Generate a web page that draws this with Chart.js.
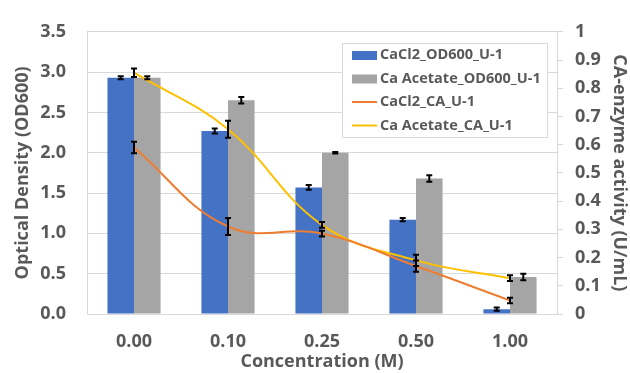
<!DOCTYPE html>
<html>
<head>
<meta charset="utf-8">
<script src="https://cdn.jsdelivr.net/npm/chart.js@4/dist/chart.umd.min.js"></script>
<style>
  html, body { margin: 0; padding: 0; background: #fff; }
  #wrap { width: 630px; height: 373px; position: relative; }
</style>
</head>
<body>
<div id="wrap"><canvas id="chart"></canvas></div>
<script>
// data
var concentrations = ['0.00', '0.10', '0.25', '0.50', '1.00'];
var cacl2OD = [2.93, 2.27, 1.57, 1.17, 0.06];
var cacl2ODErr = [0.02, 0.03, 0.03, 0.02, 0.02];
var acetateOD = [2.93, 2.65, 2.00, 1.68, 0.46];
var acetateODErr = [0.02, 0.04, 0.01, 0.04, 0.04];
var cacl2CA = [0.59, 0.31, 0.285, 0.17, 0.048];
var cacl2CAErr = [0.02, 0.03, 0.01, 0.02, 0.01];
var acetateCA = [0.855, 0.655, 0.316, 0.19, 0.127];
var acetateCAErr = [0.015, 0.03, 0.01, 0.02, 0.01];

var grey = '#595959';
var fontFam = '"Open Sans", "DejaVu Sans", sans-serif';

// simple error bar plugin, drawn from each dataset's own scale
var errorBars = {
    id: 'errorBars',
    afterDatasetsDraw(chart) {
        var ctx = chart.ctx;
        ctx.save();
        ctx.strokeStyle = '#000';
        ctx.lineWidth = 2;
        chart.data.datasets.forEach((ds, i) => {
            if (!ds.errors) return;
            var meta = chart.getDatasetMeta(i);
            var scale = chart.scales[ds.yAxisID];
            meta.data.forEach((el, j) => {
                var v = ds.data[j], e = ds.errors[j];
                var x = el.x;
                var y1 = scale.getPixelForValue(v + e);
                var y2 = scale.getPixelForValue(v - e);
                ctx.beginPath();
                ctx.moveTo(x, y1); ctx.lineTo(x, y2);
                ctx.moveTo(x - 3, y1); ctx.lineTo(x + 3, y1);
                ctx.moveTo(x - 3, y2); ctx.lineTo(x + 3, y2);
                ctx.stroke();
            });
        });
        ctx.restore();
    }
};

// legend box inside the plot, top right
var boxLegend = {
    id: 'boxLegend',
    afterDraw(chart) {
        var ctx = chart.ctx;
        var x0 = 342, y0 = 43, w = 205, h = 94;
        ctx.save();
        ctx.fillStyle = '#fff';
        ctx.strokeStyle = '#d9d9d9';
        ctx.lineWidth = 1;
        ctx.fillRect(x0, y0, w, h);
        ctx.strokeRect(x0 + 0.5, y0 + 0.5, w, h);
        ctx.font = 'bold 14.5px ' + fontFam;
        ctx.textBaseline = 'middle';
        chart.data.datasets.forEach((ds, i) => {
            var y = 55 + i * 23.5;
            if (ds.type === 'line') {
                ctx.strokeStyle = ds.borderColor;
                ctx.lineWidth = 2;
                ctx.beginPath();
                ctx.moveTo(352, y); ctx.lineTo(377, y);
                ctx.stroke();
            } else {
                ctx.fillStyle = ds.backgroundColor;
                ctx.fillRect(352, y - 4, 25, 9);
            }
            ctx.fillStyle = grey;
            ctx.fillText(ds.label, 380, y);
        });
        ctx.restore();
    }
};

var tickFont = { family: fontFam, size: 18, weight: 'bold' };

new Chart(document.getElementById('chart'), {
    type: 'bar',
    data: {
        labels: concentrations,
        datasets: [
            {
                label: 'CaCl2_OD600_U-1',
                data: cacl2OD,
                errors: cacl2ODErr,
                backgroundColor: '#4472c4',
                yAxisID: 'y',
                order: 2
            },
            {
                label: 'Ca Acetate_OD600_U-1',
                data: acetateOD,
                errors: acetateODErr,
                backgroundColor: '#a5a5a5',
                yAxisID: 'y',
                order: 2
            },
            {
                type: 'line',
                label: 'CaCl2_CA_U-1',
                data: cacl2CA,
                errors: cacl2CAErr,
                borderColor: '#ed7d31',
                backgroundColor: '#ed7d31',
                borderWidth: 2,
                pointRadius: 0,
                tension: 0.4,
                yAxisID: 'y1',
                order: 1
            },
            {
                type: 'line',
                label: 'Ca Acetate_CA_U-1',
                data: acetateCA,
                errors: acetateCAErr,
                borderColor: '#ffc000',
                backgroundColor: '#ffc000',
                borderWidth: 2,
                pointRadius: 0,
                tension: 0.4,
                yAxisID: 'y1',
                order: 1
            }
        ]
    },
    options: {
        responsive: true,
        maintainAspectRatio: false,
        animation: false,
        categoryPercentage: 0.565,
        barPercentage: 1,
        layout: { padding: { top: 23, right: 0, bottom: 0, left: 0 } },
        plugins: {
            legend: { display: false },
            tooltip: { enabled: false }
        },
        scales: {
            x: {
                grid: { display: false, drawTicks: false },
                border: { color: '#d9d9d9' },
                ticks: { color: grey, font: tickFont, padding: 17 },
                title: {
                    display: true, text: 'Concentration (M)', color: grey,
                    font: tickFont, padding: { top: 0, bottom: 0 }
                },
                afterFit: s => { s.height = 59; }
            },
            y: {
                position: 'left',
                min: 0, max: 3.5,
                ticks: {
                    stepSize: 0.5, color: grey, padding: 21,
                    font: tickFont,
                    callback: v => v.toFixed(1)
                },
                grid: { color: '#d9d9d9', drawTicks: false },
                border: { color: '#d9d9d9' },
                title: {
                    display: true, text: 'Optical Density (OD600)', color: grey,
                    font: tickFont, padding: { top: 12, bottom: 0 }
                },
                afterFit: s => { s.width = 87; }
            },
            y1: {
                position: 'right',
                min: 0, max: 1,
                ticks: {
                    stepSize: 0.1, color: grey, padding: 12,
                    font: tickFont,
                    callback: v => String(Math.round(v * 10) / 10)
                },
                grid: { drawOnChartArea: false, color: '#d9d9d9', tickLength: 6 },
                border: { color: '#d9d9d9' },
                title: {
                    display: true, text: 'CA-enzyme activity (U/mL)', color: grey,
                    font: tickFont, padding: { top: 0, bottom: 0 }
                },
                afterFit: s => { s.width = 73; }
            }
        }
    },
    plugins: [errorBars, boxLegend]
});
</script>
</body>
</html>
